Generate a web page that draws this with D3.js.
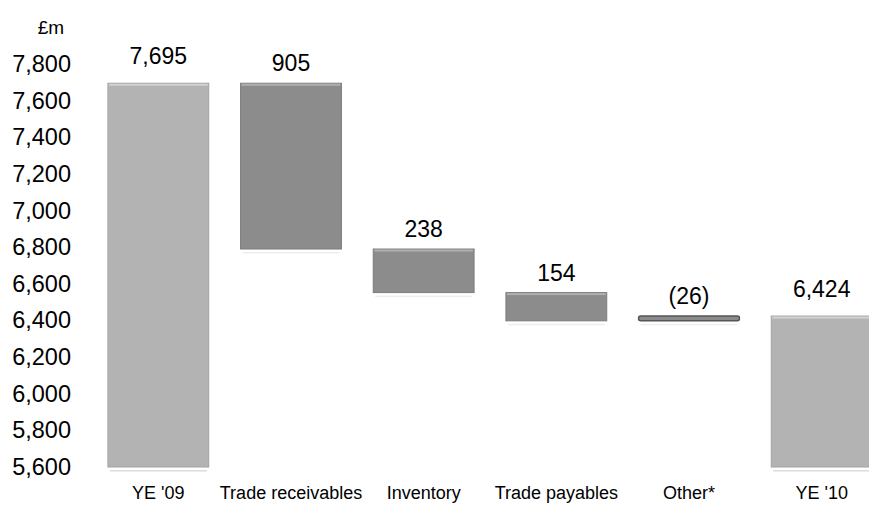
<!DOCTYPE html>
<html>
<head>
<meta charset="utf-8">
<script src="https://cdn.jsdelivr.net/npm/d3@7"></script>
<style>
    body { margin: 0; background: #fff; }
    svg { display: block; font-family: "Liberation Sans", Arial, sans-serif; }
</style>
</head>
<body>
<svg id="chart" width="869" height="506"></svg>
<script>
const categories = ["YE '09", "Trade receivables", "Inventory", "Trade payables", "Other*", "YE '10"];
// start and end of each bar (£m)
const barStart = [5600, 7695, 6790, 6552, 6398, 5600];
const barEnd = [7695, 6790, 6552, 6398, 6424, 6424];
const barLabels = ["7,695", "905", "238", "154", "(26)", "6,424"];
const isTotal = [true, false, false, false, false, true];
const yTicks = [5600, 5800, 6000, 6200, 6400, 6600, 6800, 7000, 7200, 7400, 7600, 7800];

const width = 869;
const height = 506;

const svg = d3.select("#chart");

const x = d3.scaleBand()
    .domain(categories)
    .range([92, 888])
    .paddingInner(0.24)
    .paddingOuter(0.12);

const y = d3.scaleLinear()
    .domain([5600, 7800])
    .range([467, 64]);

// y axis labels only
const yAxis = d3.axisLeft(y)
    .tickValues(yTicks)
    .tickFormat(d3.format(","))
    .tickSize(0)
    .tickPadding(0);

const yAxisG = svg.append("g")
    .attr("transform", "translate(71,0)")
    .call(yAxis);
yAxisG.select(".domain").remove();
yAxisG.selectAll("text")
    .attr("font-size", 23.5)
    .attr("font-family", "Liberation Sans, Arial, sans-serif")
    .attr("fill", "#000");

svg.append("text")
    .attr("x", 51)
    .attr("y", 34)
    .attr("text-anchor", "middle")
    .attr("font-size", 19)
    .text("£m");

const bars = categories.map((c, i) => ({
    cat: c,
    lo: Math.min(barStart[i], barEnd[i]),
    hi: Math.max(barStart[i], barEnd[i]),
    label: barLabels[i],
    total: isTotal[i]
}));

const g = svg.append("g");

// faint reflection under each bar
g.selectAll("rect.shadow")
    .data(bars)
    .join("rect")
    .attr("class", "shadow")
    .attr("x", d => x(d.cat) + 2)
    .attr("width", x.bandwidth() - 4)
    .attr("y", d => y(d.lo) + 3)
    .attr("height", 1.5)
    .attr("fill", d => d.total ? "#dcdcdc" : "#eeeeee");

g.selectAll("rect.bar")
    .data(bars)
    .join("rect")
    .attr("class", "bar")
    .attr("x", d => x(d.cat))
    .attr("width", x.bandwidth())
    .attr("y", d => y(d.hi))
    .attr("height", d => y(d.lo) - y(d.hi))
    .attr("fill", d => d.total ? "#b3b3b3" : "#8c8c8c")
    .attr("stroke", d => d.total ? "#a2a2a2" : (d.cat === "Other*" ? "#555" : "#7c7c7c"))
    .attr("stroke-width", d => d.cat === "Other*" ? 1.5 : 1)
    .attr("rx", d => d.cat === "Other*" ? 2 : 0);

// top highlight (bevel)
g.selectAll("rect.hl")
    .data(bars.filter(d => d.cat !== "Other*"))
    .join("rect")
    .attr("class", "hl")
    .attr("x", d => x(d.cat) + 1)
    .attr("width", x.bandwidth() - 2)
    .attr("y", d => y(d.hi) + 0.5)
    .attr("height", 2)
    .attr("fill", d => d.total ? "#d2d2d2" : "#b0b0b0");

// value labels
g.selectAll("text.val")
    .data(bars)
    .join("text")
    .attr("class", "val")
    .attr("x", d => x(d.cat) + x.bandwidth() / 2)
    .attr("y", d => y(d.hi) - (d.total ? 19 : 12))
    .attr("text-anchor", "middle")
    .attr("font-size", 23)
    .attr("fill", "#000")
    .text(d => d.label);

// category labels
const xAxis = d3.axisBottom(x).tickSize(0).tickPadding(0);
const xAxisG = svg.append("g")
    .attr("transform", "translate(0,486)")
    .call(xAxis);
xAxisG.select(".domain").remove();
xAxisG.selectAll("text")
    .attr("font-size", 18)
    .attr("font-family", "Liberation Sans, Arial, sans-serif")
    .attr("fill", "#000");
</script>
</body>
</html>
